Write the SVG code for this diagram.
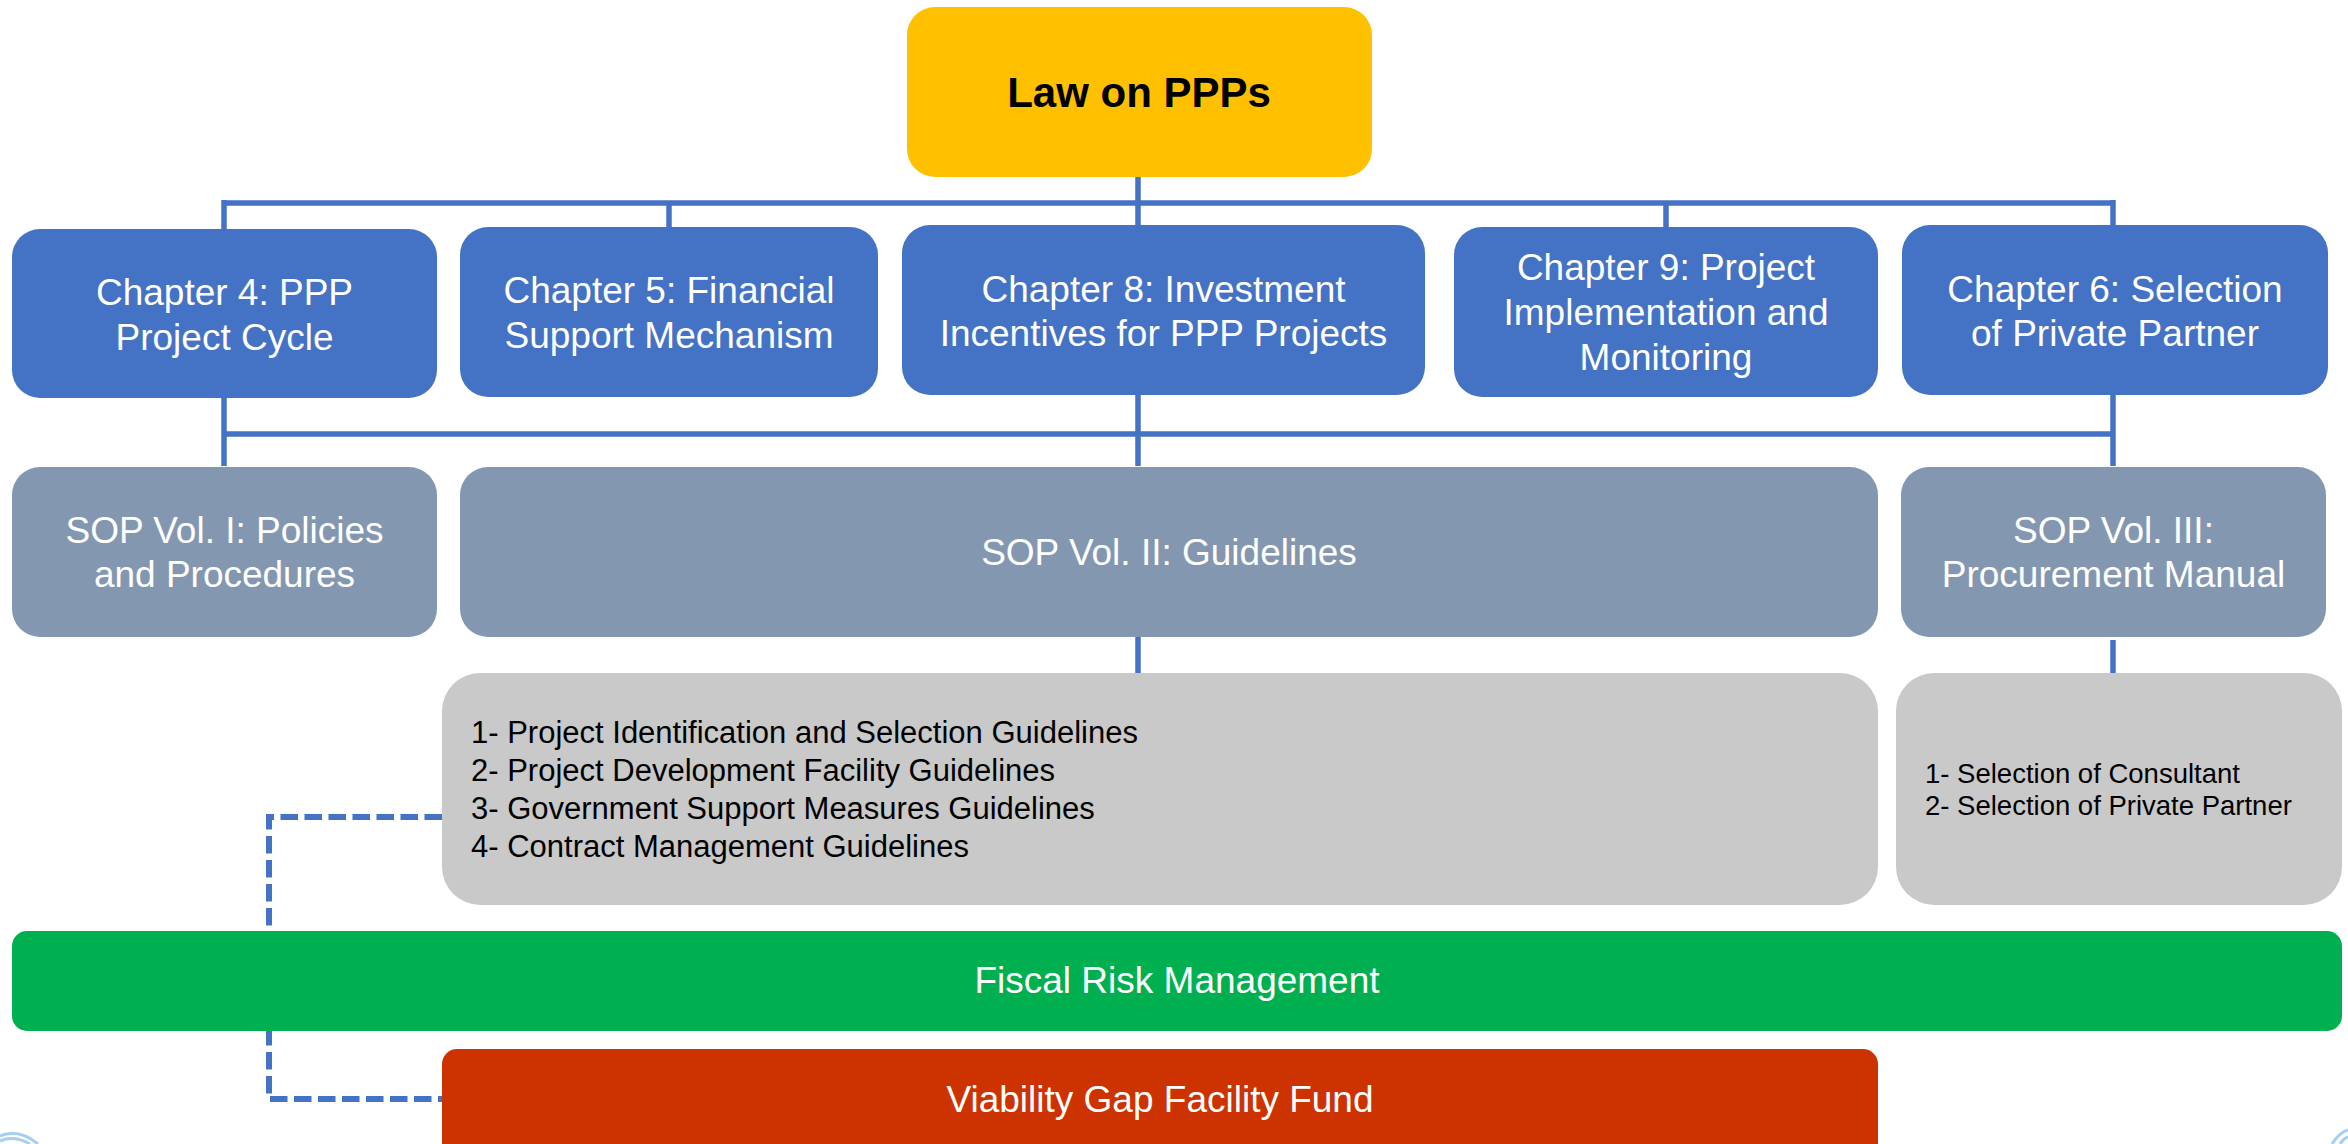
<svg xmlns="http://www.w3.org/2000/svg" width="2348" height="1144" viewBox="0 0 2348 1144">
<style>
.t{font-family:"Liberation Sans",Arial,sans-serif;}
.w{fill:#FFFFFF;font-size:37px;text-anchor:middle;}
.k{fill:#000000;}
.ch{fill:#4472C4;}
.sop{fill:#8497B0;}
.gr{fill:#C9C9C9;}
.ln{stroke:#4472C4;stroke-width:5.5;fill:none;}
.dl{stroke:#4472C4;stroke-width:6;fill:none;stroke-dasharray:17.5 6.5;}
</style>
<rect width="2348" height="1144" fill="#FFFFFF"/>
<g id="connectors">
<line class="ln" x1="1138" y1="177" x2="1138" y2="203"/>
<line class="ln" x1="224" y1="203" x2="2113" y2="203"/>
<line class="ln" x1="224" y1="200" x2="224" y2="229"/>
<line class="ln" x1="669" y1="203" x2="669" y2="227"/>
<line class="ln" x1="1138" y1="203" x2="1138" y2="225"/>
<line class="ln" x1="1666" y1="203" x2="1666" y2="227"/>
<line class="ln" x1="2113" y1="200" x2="2113" y2="225"/>
<line class="ln" x1="224" y1="398" x2="224" y2="466"/>
<line class="ln" x1="1138" y1="395" x2="1138" y2="466"/>
<line class="ln" x1="2113" y1="395" x2="2113" y2="466"/>
<line class="ln" x1="224" y1="434" x2="2113" y2="434"/>
<line class="ln" x1="1138" y1="637" x2="1138" y2="673"/>
<line class="ln" x1="2113" y1="640" x2="2113" y2="673"/>
<polyline class="dl" points="442,817 269,817 269,1099 442,1099"/>
</g>
<g id="law">
<rect x="907" y="7" width="465" height="170" rx="28" fill="#FFC000"/>
<text class="t k" x="1139" y="107" font-size="42" font-weight="bold" text-anchor="middle">Law on PPPs</text>
</g>
<g id="ch4">
<rect class="ch" x="12" y="229" width="425" height="169" rx="28"/>
<text class="t w" x="224.5" y="305">Chapter 4: PPP</text>
<text class="t w" x="224.5" y="350">Project Cycle</text>
</g>
<g id="ch5">
<rect class="ch" x="460" y="227" width="418" height="170" rx="28"/>
<text class="t w" x="669" y="303">Chapter 5: Financial</text>
<text class="t w" x="669" y="348">Support Mechanism</text>
</g>
<g id="ch8">
<rect class="ch" x="902" y="225" width="523" height="170" rx="28"/>
<text class="t w" x="1163.5" y="302">Chapter 8: Investment</text>
<text class="t w" x="1163.5" y="346">Incentives for PPP Projects</text>
</g>
<g id="ch9">
<rect class="ch" x="1454" y="227" width="424" height="170" rx="28"/>
<text class="t w" x="1666" y="280">Chapter 9: Project</text>
<text class="t w" x="1666" y="325">Implementation and</text>
<text class="t w" x="1666" y="370">Monitoring</text>
</g>
<g id="ch6">
<rect class="ch" x="1902" y="225" width="426" height="170" rx="28"/>
<text class="t w" x="2115" y="302">Chapter 6: Selection</text>
<text class="t w" x="2115" y="346">of Private Partner</text>
</g>
<g id="sop1">
<rect class="sop" x="12" y="467" width="425" height="170" rx="28"/>
<text class="t w" x="224.5" y="543">SOP Vol. I: Policies</text>
<text class="t w" x="224.5" y="587">and Procedures</text>
</g>
<g id="sop2">
<rect class="sop" x="460" y="467" width="1418" height="170" rx="28"/>
<text class="t w" x="1169" y="565">SOP Vol. II: Guidelines</text>
</g>
<g id="sop3">
<rect class="sop" x="1901" y="467" width="425" height="170" rx="28"/>
<text class="t w" x="2113.5" y="543">SOP Vol. III:</text>
<text class="t w" x="2113.5" y="587">Procurement Manual</text>
</g>
<g id="guidelines">
<rect class="gr" x="442" y="673" width="1436" height="232" rx="38"/>
<text class="t k" x="471" font-size="31">
<tspan x="471" y="743">1- Project Identification and Selection Guidelines</tspan>
<tspan x="471" y="781">2- Project Development Facility Guidelines</tspan>
<tspan x="471" y="819">3- Government Support Measures Guidelines</tspan>
<tspan x="471" y="857">4- Contract Management Guidelines</tspan>
</text>
</g>
<g id="procurement">
<rect class="gr" x="1896" y="673" width="446" height="232" rx="38"/>
<text class="t k" font-size="27.5">
<tspan x="1925" y="783">1- Selection of Consultant</tspan>
<tspan x="1925" y="815">2- Selection of Private Partner</tspan>
</text>
</g>
<g id="fiscal">
<rect x="12" y="931" width="2330" height="100" rx="15" fill="#00B050"/>
<text class="t w" x="1177" y="993">Fiscal Risk Management</text>
</g>
<g id="vgf">
<rect x="442" y="1049" width="1436" height="120" rx="15" fill="#CC3300"/>
<text class="t w" x="1160" y="1112">Viability Gap Facility Fund</text>
</g>
<g id="logos" fill="none" stroke="#8FC3F0" stroke-width="3" opacity="0.8">
<path d="M0,1136 Q18,1128 38,1144"/>
<path d="M0,1141 Q14,1135 30,1144"/>
<path d="M2332,1144 Q2340,1132 2348,1130"/>
<path d="M2340,1144 Q2344,1138 2348,1137"/>
</g>
</svg>
